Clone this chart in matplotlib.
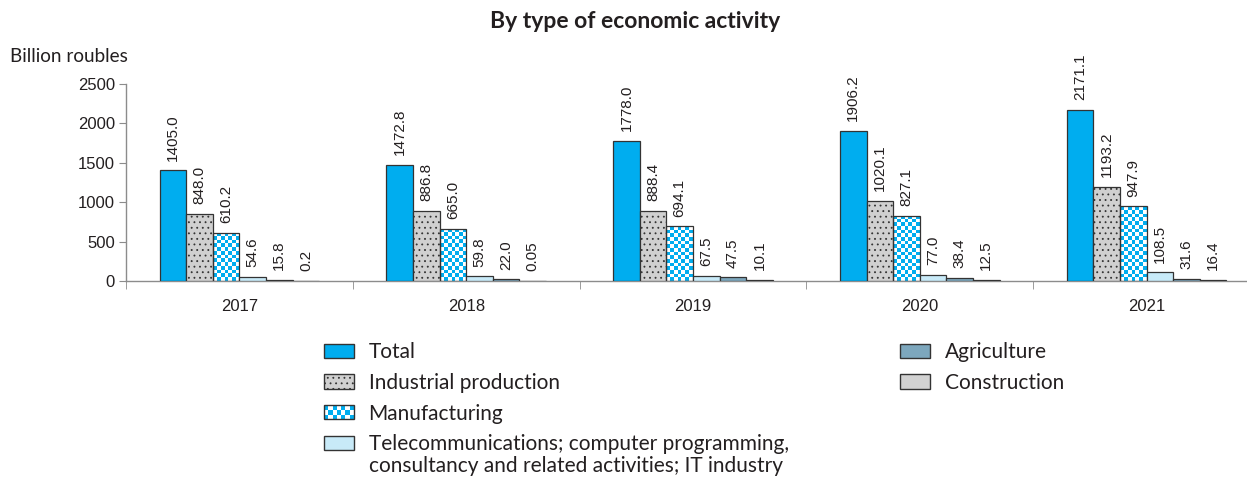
import matplotlib
matplotlib.use("Agg")
import matplotlib.pyplot as plt
import numpy as np
from matplotlib.colors import ListedColormap
from matplotlib.patches import Patch, Rectangle
from matplotlib.legend_handler import HandlerBase

years = ["2017", "2018", "2019", "2020", "2021"]
total = [1405.0, 1472.8, 1778.0, 1906.2, 2171.1]
industrial = [848.0, 886.8, 888.4, 1020.1, 1193.2]
manufacturing = [610.2, 665.0, 694.1, 827.1, 947.9]
telecom = [54.6, 59.8, 67.5, 77.0, 108.5]
agriculture = [15.8, 22.0, 47.5, 38.4, 31.6]
construction = [0.2, 0.05, 10.1, 12.5, 16.4]
yticks = [0, 500, 1000, 1500, 2000, 2500]

names = ["Total", "Industrial production", "Manufacturing",
         "Telecommunications; computer programming,",
         "Agriculture", "Construction"]
telecom_line2 = "consultancy and related activities; IT industry"

BLUE = "#00adef"
EDGE = "#333333"
AXIS = "#8c8c8c"
TXT = "#231f20"
HUMAN = ["Lato", "DejaVu Sans"]

plt.rcParams["font.family"] = ["Liberation Sans", "DejaVu Sans"]
plt.rcParams["hatch.linewidth"] = 0.6

fig = plt.figure(figsize=(12.47, 4.8), dpi=100)
ax = fig.add_axes([126 / 1247, 1 - 281 / 480, (1260 - 126) / 1247, (281 - 84) / 480])

series = [
    (total, dict(color=BLUE)),
    (industrial, dict(color="#d0d0d0", hatch="...")),
    (manufacturing, dict(color="none")),
    (telecom, dict(color="#c8eaf8")),
    (agriculture, dict(color="#7da7bd")),
    (construction, dict(color="#d2d2d2")),
]

bw = 0.1173
x = np.arange(len(years)) + 0.5
containers = []
for k, (vals, st) in enumerate(series):
    bars = ax.bar(x + (k - 2.5) * bw, vals, bw, facecolor=st["color"],
                  hatch=st.get("hatch"), edgecolor=EDGE, linewidth=0.9, zorder=3)
    containers.append(bars)
    for rect, v in zip(bars, vals):
        lab = f"{v:.1f}" if v >= 0.1 else f"{v:.2f}"
        ax.annotate(lab, (rect.get_x() + rect.get_width() / 2, v),
                    xytext=(0, 7), textcoords="offset points", rotation=90,
                    ha="center", va="bottom", fontsize=11, color=TXT)

ax.set_xlim(0, 5)
ax.set_ylim(0, 2500)

# checkerboard fill for manufacturing bars
checker_cmap = ListedColormap(["white", BLUE])
cell = 3.7
for rect in containers[2]:
    x0, w, h = rect.get_x(), rect.get_width(), rect.get_height()
    p0 = ax.transData.transform((x0, 0))
    p1 = ax.transData.transform((x0 + w, h))
    nc = max(1, int(round((p1[0] - p0[0]) / cell)))
    nr = max(1, int(round((p1[1] - p0[1]) / cell)))
    grid = (np.add.outer(np.arange(nr), np.arange(nc)) % 2)
    im = ax.imshow(grid, cmap=checker_cmap, extent=(x0, x0 + w, 0, h),
                   origin="lower", aspect="auto", interpolation="nearest", zorder=2)
    im.set_clip_path(rect)
ax.set_xlim(0, 5)
ax.set_ylim(0, 2500)
ax.set_aspect("auto")

for s in ["top", "right"]:
    ax.spines[s].set_visible(False)
for s in ["left", "bottom"]:
    ax.spines[s].set_color(AXIS)
    ax.spines[s].set_linewidth(1.0)
ax.set_yticks(yticks)
ax.tick_params(axis="y", length=5, color=AXIS, labelsize=12, labelcolor=TXT, pad=3)
ax.set_xticks(x)
ax.set_xticklabels(years)
ax.tick_params(axis="x", which="major", length=0, labelsize=12, labelcolor=TXT, pad=13)
ax.set_xticks(np.arange(len(years) + 1), minor=True)
ax.tick_params(axis="x", which="minor", length=6, color=AXIS)

fig.text(635 / 1247, 1 - 22 / 480, "By type of economic activity", ha="center",
         va="center", fontsize=16.5, fontweight="bold", family=HUMAN, color=TXT)
fig.text(10 / 1247, 1 - 57 / 480, "Billion roubles", ha="left", va="center",
         fontsize=13.6, family=HUMAN, color=TXT)


class CheckerHandler(HandlerBase):
    def create_artists(self, legend, orig_handle, xdescent, ydescent,
                       width, height, fontsize, trans):
        arts = [Rectangle((-xdescent, -ydescent), width, height, facecolor="white",
                          edgecolor="none", transform=trans)]
        nx, ny = 7, 3
        cw, ch = width / nx, height / ny
        for i in range(nx):
            for j in range(ny):
                if (i + j) % 2 == 0:
                    arts.append(Rectangle((-xdescent + i * cw, -ydescent + j * ch), cw, ch,
                                          facecolor=BLUE, edgecolor="none", transform=trans))
        arts.append(Rectangle((-xdescent, -ydescent), width, height, fill=False,
                              edgecolor=EDGE, linewidth=1.0, transform=trans))
        return arts


handles = [Patch(facecolor=BLUE, edgecolor=EDGE),
           Patch(facecolor="#d0d0d0", edgecolor=EDGE, hatch="..."),
           Patch(facecolor="white", edgecolor=EDGE),
           Patch(facecolor="#c8eaf8", edgecolor=EDGE),
           Patch(facecolor="#7da7bd", edgecolor=EDGE),
           Patch(facecolor="#d2d2d2", edgecolor=EDGE)]

leg_kw = dict(frameon=False, borderpad=0, borderaxespad=0, handlelength=1.44,
              handleheight=0.67, handletextpad=0.7, labelspacing=0.52,
              prop={"family": HUMAN, "size": 15}, labelcolor=TXT)
leg1 = fig.legend(handles[:4], names[:4], loc="upper left",
                  bbox_to_anchor=(324 / 1247, 1 - 342 / 480),
                  handler_map={handles[2]: CheckerHandler()}, **leg_kw)
leg2 = fig.legend(handles[4:], names[4:], loc="upper left",
                  bbox_to_anchor=(900 / 1247, 1 - 342 / 480), **leg_kw)

fig.canvas.draw()
bb = leg1.get_texts()[3].get_window_extent()
yc = (bb.y0 + bb.y1) / 2 - 22
fig.text(bb.x0 / 1247, yc / 480, telecom_line2, ha="left", va="center",
         fontsize=15, family=HUMAN, color=TXT)

fig.savefig("out.png", dpi=100)
